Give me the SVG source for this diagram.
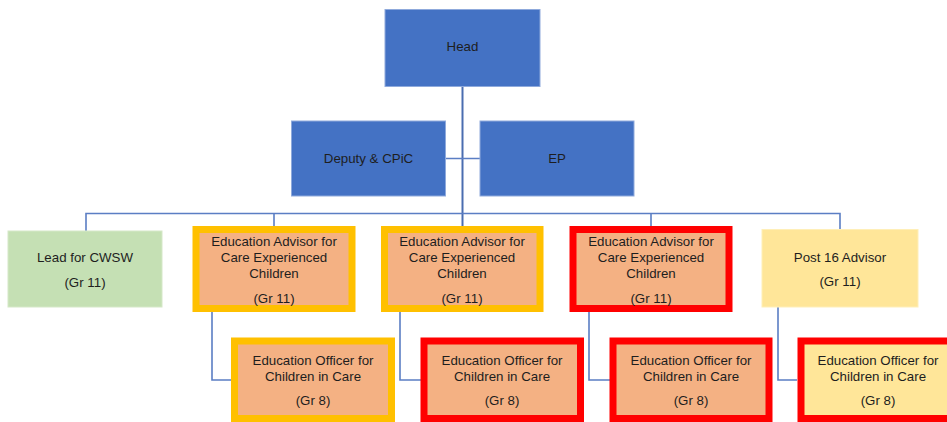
<svg xmlns="http://www.w3.org/2000/svg" width="947" height="422" viewBox="0 0 947 422">
<style>
text{font-family:"Liberation Sans","Open Sans",sans-serif;font-size:13.3px;fill:#1e1e1e;text-anchor:middle}
.blue{fill:#4472C4;stroke:#8FAADC;stroke-width:1}
.ea{fill:#F4B183;stroke-width:7}
.amb{stroke:#FFC000}
.red{stroke:#FF0000}
.con{fill:none;stroke:#5B7EC4;stroke-width:1.6}
.main{fill:none;stroke:#4A6DB0;stroke-width:2}
</style>
<rect width="947" height="422" fill="#fff"/>
<g id="connectors">
<path class="main" d="M462.5 87V226"/>
<path class="con" d="M446 158.5H480"/>
<path class="con" d="M86 231V213.5H840V229.5"/>
<path class="con" d="M274 213.5V226M651 213.5V226"/>
<path class="con" d="M212 311.5V380H231M400 311.5V380H421M589 311.5V380H610M778 307V380H797"/>
</g>
<g id="head"><rect class="blue" x="385" y="9.5" width="155" height="77"/><text x="462.5" y="50.5">Head</text></g>
<g id="deputy"><rect class="blue" x="291.5" y="121" width="154" height="75"/><text x="368.5" y="162.5">Deputy &amp; CPiC</text></g>
<g id="ep"><rect class="blue" x="480" y="121" width="154" height="75"/><text x="557" y="162.5">EP</text></g>
<g id="lead"><rect x="8" y="231" width="154" height="76" fill="#C5E0B4" stroke="#D5E8C8" stroke-width="1"/><text x="85" y="262">Lead for CWSW</text><text x="85" y="286.5">(Gr 11)</text></g>
<g id="ea1"><rect class="ea amb" x="196" y="229.5" width="156" height="79"/><text x="274" y="245.5">Education Advisor for</text><text x="274" y="261.5">Care Experienced</text><text x="274" y="277.5">Children</text><text x="274" y="302.5">(Gr 11)</text></g>
<g id="ea2"><rect class="ea amb" x="384.5" y="229.5" width="155.5" height="79"/><text x="462" y="245.5">Education Advisor for</text><text x="462" y="261.5">Care Experienced</text><text x="462" y="277.5">Children</text><text x="462" y="302.5">(Gr 11)</text></g>
<g id="ea3"><rect class="ea red" x="573" y="229.5" width="156" height="79"/><text x="651" y="245.5">Education Advisor for</text><text x="651" y="261.5">Care Experienced</text><text x="651" y="277.5">Children</text><text x="651" y="302.5">(Gr 11)</text></g>
<g id="post16"><rect x="762" y="229.5" width="156" height="77.5" fill="#FFE699" stroke="#FFEFB8" stroke-width="1"/><text x="840" y="262">Post 16 Advisor</text><text x="840" y="285.5">(Gr 11)</text></g>
<g id="eo1"><rect class="ea amb" x="234.5" y="341" width="157" height="77.5"/><text x="313" y="364.5">Education Officer for</text><text x="313" y="380.5">Children in Care</text><text x="313" y="404.5">(Gr 8)</text></g>
<g id="eo2"><rect class="ea red" x="424" y="341" width="156.5" height="77.5"/><text x="502" y="364.5">Education Officer for</text><text x="502" y="380.5">Children in Care</text><text x="502" y="404.5">(Gr 8)</text></g>
<g id="eo3"><rect class="ea red" x="613" y="341" width="156" height="77.5"/><text x="691" y="364.5">Education Officer for</text><text x="691" y="380.5">Children in Care</text><text x="691" y="404.5">(Gr 8)</text></g>
<g id="eo4"><rect x="801" y="341" width="156" height="77.5" fill="#FFE699" stroke="#FF0000" stroke-width="7"/><text x="878" y="364.5">Education Officer for</text><text x="878" y="380.5">Children in Care</text><text x="878" y="404.5">(Gr 8)</text></g>
</svg>
